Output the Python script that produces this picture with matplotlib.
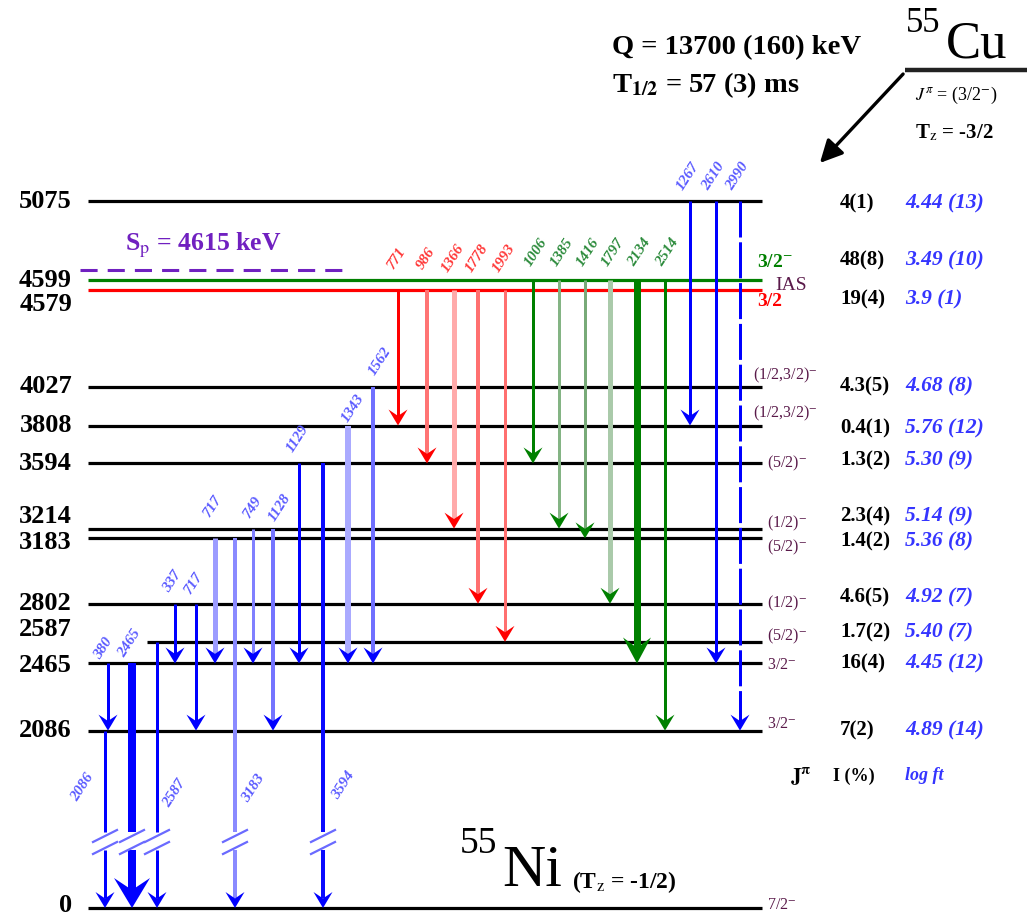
import matplotlib.pyplot as plt
from matplotlib.patches import Polygon

plt.rcParams['font.family'] = ['Liberation Serif', 'DejaVu Serif']
plt.rcParams['mathtext.fontset'] = 'stix'

# 55Ni levels fed in the beta decay of 55Cu (keV)
levels = [0, 2086, 2465, 2587, 2802, 3183, 3214, 3594, 3808, 4027, 4579, 4599, 5075]
spins = ['7/2$^{-}$', '3/2$^{-}$', '3/2$^{-}$', '(5/2)$^{-}$', '(1/2)$^{-}$', '(5/2)$^{-}$',
         '(1/2)$^{-}$', '(5/2)$^{-}$', '(1/2,3/2)$^{-}$', '(1/2,3/2)$^{-}$', '3/2', '3/2$^{-}$', '']
feeding = ['', '7(2)', '16(4)', '1.7(2)', '4.6(5)', '1.4(2)', '2.3(4)', '1.3(2)', '0.4(1)',
           '4.3(5)', '19(4)', '48(8)', '4(1)']
log_ft = ['', '4.89 (14)', '4.45 (12)', '5.40 (7)', '4.92 (7)', '5.36 (8)', '5.14 (9)',
          '5.30 (9)', '5.76 (12)', '4.68 (8)', '3.9 (1)', '3.49 (10)', '4.44 (13)']
s_p = 4615

# gamma transitions: label, initial level, final level
g_label = ['2086', '380', '2465', '2587', '337', '717', '717', '3183', '749', '1128', '1129',
           '3594', '1343', '1562',
           '771', '986', '1366', '1778', '1993',
           '1006', '1385', '1416', '1797', '2134', '2514',
           '1267', '2610', '2990']
g_from = [2086, 2465, 2465, 2587, 2802, 2802, 3183, 3183, 3214, 3214, 3594, 3594, 3808, 4027,
          4579, 4579, 4579, 4579, 4579,
          4599, 4599, 4599, 4599, 4599, 4599,
          5075, 5075, 5075]
g_to = [0, 2086, 0, 0, 2465, 2086, 2465, 0, 2465, 2086, 2465, 0, 2465, 2465,
        3808, 3594, 3214, 2802, 2587,
        3594, 3214, 3183, 2802, 2465, 2086,
        3808, 2465, 2086]

# drawing layout
g_x = [105, 108, 132, 157, 175, 196, 215, 235, 253, 273, 299, 323, 348, 373,
       398, 427, 454, 478, 505,
       533, 559, 585, 610, 637, 665,
       690, 716, 740]
g_group = ['b'] * 14 + ['r'] * 5 + ['g'] * 6 + ['b'] * 3
g_color = ['#0000ff', '#0000ff', '#0000ff', '#0000ff', '#0000ff', '#0000ff', '#9c9cff', '#8a8aff',
           '#8080ff', '#7474ff', '#0000ff', '#0a0aff', '#aaaaff', '#7070ff',
           '#ff0000', '#ff7474', '#ffaaaa', '#ff7070', '#ff7070',
           '#008000', '#84b484', '#78aa78', '#aacaaa', '#008000', '#008000',
           '#0000ff', '#0000ff', '#0000ff']
g_width = [3, 3, 8, 3, 3, 3, 5, 4, 3, 4, 3, 4, 6, 4,
           3, 4, 5, 4, 3,
           3, 3, 3, 5, 7, 3,
           3, 3, 3]
g_lab_off = [(-22, 57), (-5, -15), (-2, -20), (18, 151), (-3, -22), (-2, -20), (-2, -32),
             (18, 250), (0, -21), (7, -21), (-1, -25), (20, 322), (5, -17), (7, -25)] + \
            [(-1, -32)] * 5 + [(3, -28)] * 6 + [(-2, -25)] * 3

nudge = {3183: -12, 3214: 12, 4579: -8, 4599: 28, s_p: 70}
level_color = {4579: '#ff0000', 4599: '#008000'}
head_color = {'b': '#0000ff', 'r': '#ff0000', 'g': '#008000'}
label_color = {'b': '#5a5aff', 'r': '#ff3838', 'g': '#2a8a3a'}
left_dy = {4579: 14, 3214: -12, 3183: 4, 2587: -12, 2465: 2, 0: -3}
row_dy = {5075: 2, 4599: -20, 4579: 9, 3808: 3, 3594: -3, 3214: -12, 3183: 3, 2802: -6, 2587: -9}
spin_dy = {4027: -11, 3808: -12, 3214: -5, 3183: 9, 2587: -5, 2465: 2, 2086: -7, 0: -3}

W, H = 1027, 918
KPX = 1 / 0.17718      # energy units per pixel
Y_TOP = 6209.6
Y_BOT = Y_TOP - H * KPX
GROUND = 1084.8        # ground state sits below the axis break


def ypos(e):
    if e == 0:
        return GROUND
    return e + nudge.get(e, 0)


def py(p):
    return Y_TOP - p * KPX


fig = plt.figure(figsize=(W / 100, H / 100), dpi=100)
ax = fig.add_axes([0, 0, 1, 1])
ax.set_xlim(0, W)
ax.set_ylim(Y_BOT, Y_TOP)
ax.axis('off')


def head(x, y, color, w=19, l=16):
    hl = l * KPX
    pts = [(x, y), (x - w / 2, y + hl), (x, y + 0.6 * hl), (x + w / 2, y + hl)]
    ax.add_patch(Polygon(pts, closed=True, facecolor=color, edgecolor='none', zorder=4))
    return y + 0.6 * hl


def shaft(x, y0, y1, color, wpx, dashed=False):
    ls = (0, (12, 1.6)) if dashed else '-'
    ax.plot([x, x], [y0, y1], color=color, lw=wpx * 0.72, ls=ls,
            solid_capstyle='butt', zorder=3)


# levels
for i, e in enumerate(levels):
    x0 = 147 if e == 2587 else 88
    ax.plot([x0, 762], [ypos(e)] * 2, color=level_color.get(e, 'black'), lw=2.3,
            solid_capstyle='butt', zorder=2)
    ax.text(72, ypos(e) - left_dy.get(e, 0) * KPX, str(e), ha='right', va='center',
            fontsize=19, fontweight='bold')
    if e not in (4579, 4599, 5075):
        xs = 753 if ',' in spins[i] else 767
        ax.text(xs, ypos(e) - spin_dy.get(e, 0) * KPX, spins[i], ha='left', va='center',
                fontsize=11.5, color='#5a1a4a')
    if feeding[i]:
        yr = ypos(e) - row_dy.get(e, 0) * KPX
        ax.text(840, yr, feeding[i], ha='left', va='center', fontsize=15, fontweight='bold')
        ax.text(905, yr, log_ft[i], ha='left', va='center', fontsize=15.5, fontweight='bold',
                style='italic', color='#3535ff')

# isobaric analogue state doublet
i_red, i_green = levels.index(4579), levels.index(4599)
ax.text(757, ypos(4599) + 18 * KPX, spins[i_green], ha='left', va='center', fontsize=14,
        fontweight='bold', color='#008000')
ax.text(757, ypos(4579) - 11 * KPX, spins[i_red], ha='left', va='center', fontsize=14,
        fontweight='bold', color='#ff0000')
ax.text(775, py(285), 'IAS', ha='left', va='center', fontsize=14, color='#5a1a4a')

# proton separation energy
ax.plot([80, 343], [ypos(s_p)] * 2, color='#7020c0', lw=2.2, ls=(0, (5.6, 3.3)))
ax.text(125, ypos(s_p) + 25 * KPX, 'S$_{\\rm p}$ = %d keV' % s_p, ha='left', va='center',
        fontsize=18.5, fontweight='bold', color='#7020c0')

# gamma rays
for i in range(len(g_label)):
    x = g_x[i]
    grp = g_group[i]
    y0, y1 = ypos(g_from[i]), ypos(g_to[i])
    if g_width[i] == 8:
        hw, hlen = 36, 30
    elif g_width[i] == 7:
        hw, hlen = 28, 26
    else:
        hw, hlen = 19, 16
    yb = head(x, y1, head_color[grp], hw, hlen)
    if g_to[i] == 0:
        shaft(x, y0, py(832), g_color[i], g_width[i])
        shaft(x, py(850), yb, g_color[i], g_width[i])
        for p in (836, 848):
            ax.plot([x - 12, x + 12], [py(p + 6), py(p - 6)], color='#6a6aff', lw=1.6, zorder=4)
    else:
        shaft(x, y0, yb, g_color[i], g_width[i], dashed=(g_label[i] == '2990'))
    dx, dy = g_lab_off[i]
    ax.text(x + dx, y0 - dy * KPX, g_label[i], rotation=57, ha='center', va='center',
            fontsize=11, style='italic', fontweight='bold', color=label_color[grp])

# column headers
ax.text(790, py(776), '$\\mathbf{J^{\\pi}}$', ha='left', va='center', fontsize=15)
ax.text(833, py(776), 'I (%)', ha='left', va='center', fontsize=13, fontweight='bold')
ax.text(905, py(776), 'log ft', ha='left', va='center', fontsize=13, fontweight='bold',
        style='italic', color='#3535ff')

# parent nucleus
fig.text(612 / W, 1 - 48 / H, 'Q = 13700 (160) keV', ha='left', va='center', fontsize=20.5,
         fontweight='bold')
fig.text(612 / W, 1 - 85 / H, 'T$_{\\mathbf{1/2}}$ = 57 (3) ms', ha='left', va='center',
         fontsize=20.5, fontweight='bold')
fig.text(906 / W, 1 - 24 / H, '55', ha='left', va='center', fontsize=25)
fig.text(946 / W, 1 - 44 / H, 'Cu', ha='left', va='center', fontsize=38)
ax.plot([905, 1027], [py(70)] * 2, color='#222222', lw=3.2, solid_capstyle='butt')
fig.text(915 / W, 1 - 95 / H, '$J^{\\pi}$ = (3/2$^{-}$)', ha='left', va='center', fontsize=13)
fig.text(915 / W, 1 - 133 / H, 'T$_{\\rm z}$ = -3/2', ha='left', va='center', fontsize=15,
         fontweight='bold')
ax.annotate('', xy=(818, py(165)), xytext=(905, py(72)),
            arrowprops=dict(arrowstyle='-|>', lw=2.4, color='black', mutation_scale=34))

# daughter nucleus
fig.text(460 / W, 1 - 844 / H, '55', ha='left', va='center', fontsize=27)
fig.text(502 / W, 1 - 872 / H, 'Ni', ha='left', va='center', fontsize=43)
fig.text(572 / W, 1 - 882 / H, '(T$_{\\rm z}$ = -1/2)', ha='left', va='center', fontsize=17,
         fontweight='bold')

fig.savefig('out.png', dpi=100)
